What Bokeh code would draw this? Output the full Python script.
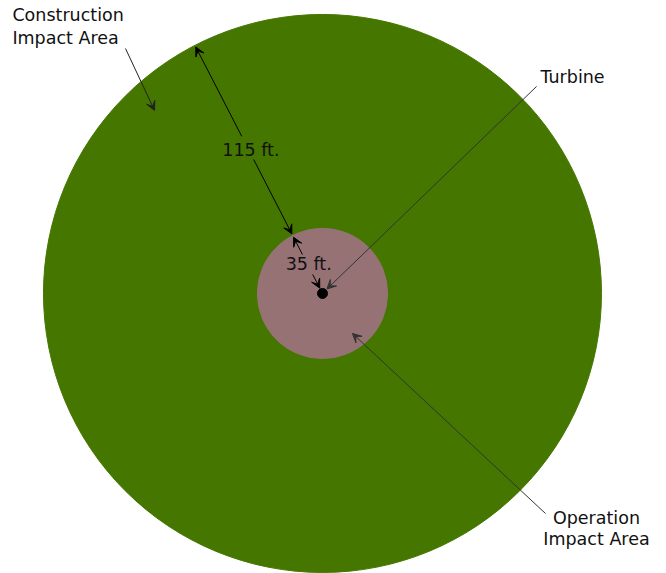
import math
from bokeh.plotting import figure
from bokeh.models import Range1d, Arrow, VeeHead, ColumnDataSource
from bokeh.core.properties import value
from bokeh.embed import file_html
from bokeh.resources import INLINE

# ---- data (feet) ----
operation_radius = 35          # operation impact area radius
construction_width = 115       # construction ring width beyond operation area
construction_radius = operation_radius + construction_width
area_names = ["Construction Impact Area", "Operation Impact Area"]
area_radii = [construction_radius, operation_radius]
area_colors = ["#457700", "#977275"]
dimension_labels = ["115 ft.", "35 ft."]

# ---- figure: 1.86 px per foot, turbine centred ----
W, H = 666, 573
p = figure(width=W, height=H, output_backend="svg", toolbar_location=None,
           x_range=Range1d(-173.1, 184.95), y_range=Range1d(-150.55, 157.5),
           min_border=0)
p.axis.visible = False
p.grid.visible = False
p.outline_line_color = None
p.background_fill_color = "white"

src = ColumnDataSource(dict(x=[0, 0], y=[0, 0], r=area_radii, c=area_colors))
p.circle(x="x", y="y", radius="r", fill_color="c", line_color="c", source=src)

# turbine dot
p.scatter(x=[0], y=[0], size=10, color="black")

# ---- dimension arrows along a radius ----
ang = math.radians(117.2)
def pt(r):
    return r * math.cos(ang), r * math.sin(ang)

def arrow(x0, y0, x1, y1, color="black", width=1.0):
    p.add_layout(Arrow(end=VeeHead(size=9, fill_color=color, line_color=color),
                       x_start=x0, y_start=y0, x_end=x1, y_end=y1,
                       line_color=color, line_width=width))

segments = [
    (95, construction_radius - 1),   # 115 ft upper
    (81, operation_radius + 1),      # 115 ft lower
    (23.5, operation_radius - 1),    # 35 ft upper
    (11.5, 3.2),                     # 35 ft lower, to turbine
]
for a, b in segments:
    xa, ya = pt(a)
    xb, yb = pt(b)
    arrow(xa, ya, xb, yb)

# callouts
arrow(-105.9, 131.7, -90.3, 98.4, color="#222222")
arrow(115.1, 111.3, 2.4, 2.4, color="#333333")
arrow(119.9, -118.3, 16.1, -21.5, color="#333333")

# ---- texts ----
texts = ["Construction", "Impact Area", "Turbine", "Operation", "Impact Area",
         dimension_labels[0], dimension_labels[1]]
tx = [-166.7, -166.7, 117.2, 147.3, 147.3, -38.5, -7.4]
ty = [146.0, 134.1, 112.7, -124.4, -135.5, 73.7, 12.4]
ty = [v + 3.5 for v in ty]
al = ["left", "left", "left", "center", "center", "center", "center"]
tsrc = ColumnDataSource(dict(x=tx, y=ty, t=texts, a=al))
p.text(x="x", y="y", text="t", text_align="a", source=tsrc,
       text_baseline="alphabetic", text_font=value("DejaVu Sans"),
       text_font_size="17.5px", text_color="#111111")

open("out.html", "w").write(file_html(p, INLINE))
